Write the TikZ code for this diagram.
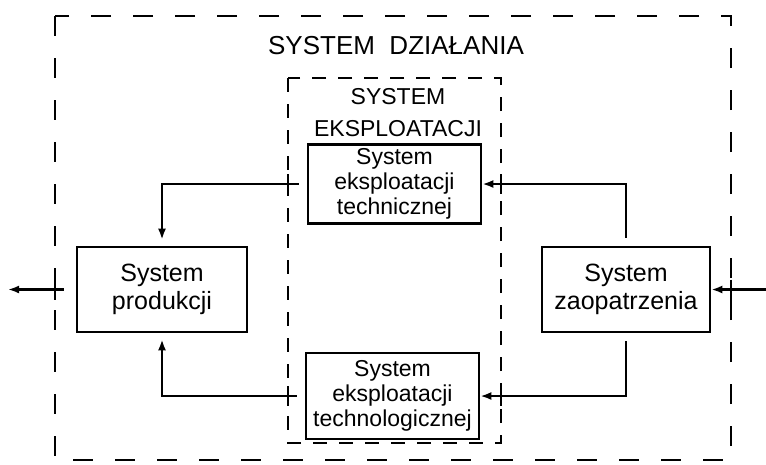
\documentclass[tikz,border=0pt]{standalone}
\usepackage{fontspec}
\setmainfont{Liberation Sans}
\usetikzlibrary{arrows.meta}

\begin{document}
\begin{tikzpicture}[
x=1pt, y=-1pt,
line width=2.6pt,
box/.style={draw, align=center, inner sep=2pt, font=\fontsize{23}{25}\selectfont},
bigbox/.style={box, font=\fontsize{25}{28}\selectfont},
frame/.style={dash pattern=on 20pt off 22pt},
inframe/.style={dash pattern=on 14pt off 12pt},
arr/.style={-{Latex[length=11pt,width=8pt]}, shorten <=8pt}
]
\useasboundingbox (0,0) rectangle (766,464);
% ramy systemow
\draw[frame] (55,16) rectangle (731,460);
\draw[inframe] (288,78) rectangle (501,443);
\node[font=\fontsize{26}{30}\selectfont] (dzial) at (396,46) {SYSTEM\ \ DZIAŁANIA};
\node[align=center, font=\fontsize{23}{32}\selectfont] (eksp) at (398,113) {SYSTEM\\EKSPLOATACJI};
% podsystemy
\node[bigbox, minimum width=170pt, minimum height=85pt] (prod) at (162,289.5) {System\\produkcji};
\node[bigbox, minimum width=168pt, minimum height=85pt] (zaop) at (626,289.5) {System\\zaopatrzenia};
\node[box, minimum width=173pt, minimum height=79pt] (tech) at (394.5,184) {System\\eksploatacji\\technicznej};
\node[box, minimum width=173pt, minimum height=86pt] (techno) at (392.5,396) {System\\eksploatacji\\technologicznej};
\coordinate (wej) at (766,289.5);
\coordinate (wyj) at (8,289.5);
% przeciecia z ramami
\draw (55,279.5) -- (55,299.5) (731,279.5) -- (731,299.5)
      (288,174) -- (288,194) (288,386) -- (288,406)
      (501,174) -- (501,194) (501,386) -- (501,406);
% przeplywy
\draw[arr, shorten >=6pt] (tech.west) -| (prod.north);
\draw[arr, shorten >=6pt] (techno.west) -| (prod.south);
\draw[arr] (zaop.north) |- (tech.east);
\draw[arr] (zaop.south) |- (techno.east);
\draw[arr, shorten <=0pt] (wej) -- (zaop.east);
\draw[arr, shorten <=12pt] (prod.west) -- (wyj);
\end{tikzpicture}
\end{document}
